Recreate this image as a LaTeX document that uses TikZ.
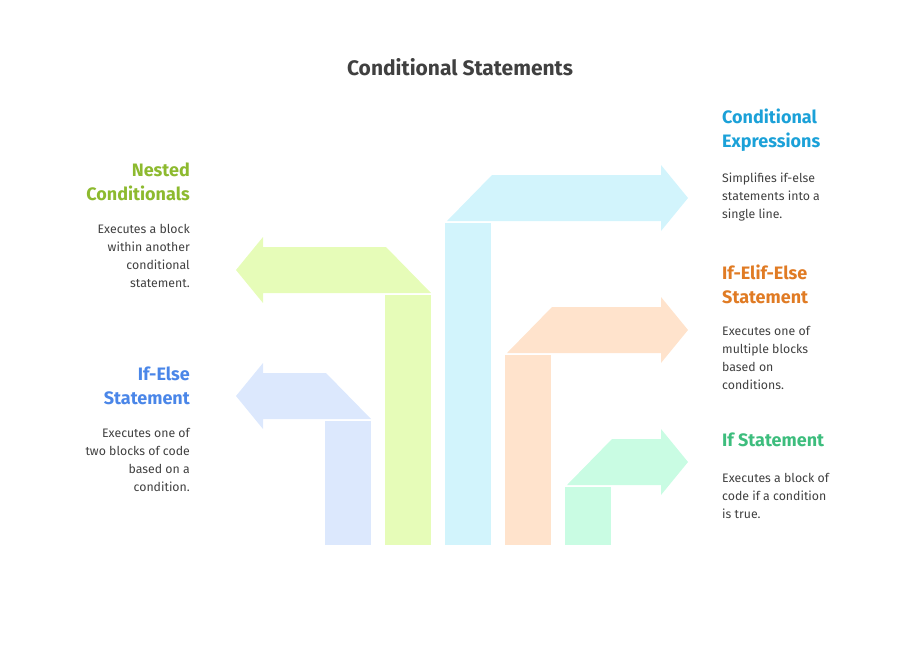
\documentclass[tikz,border=0pt]{standalone}
\usepackage{fontspec}
\setmainfont{Fira Sans}
\begin{document}
\begin{tikzpicture}[x=1pt,y=-1pt,
 ttl/.style={font=\fontseries{sb}\fontsize{21}{24}\selectfont},
 descR/.style={anchor=north west,align=left,font=\fontsize{12.3}{18}\selectfont,text=black!75,inner sep=0},
 descL/.style={anchor=north east,align=right,font=\fontsize{12.3}{18}\selectfont,text=black!75,inner sep=0},
 ttR/.style={anchor=north west,align=left,font=\fontseries{sb}\fontsize{18}{24}\selectfont,inner sep=0},
 ttL/.style={anchor=north east,align=right,font=\fontseries{sb}\fontsize{18}{24}\selectfont,inner sep=0}]
\useasboundingbox (0,0) rectangle (912,654);
\definecolor{cO}{HTML}{FFE3CC}\definecolor{cG}{HTML}{C9FCE3}\definecolor{cB}{HTML}{D2F4FC}
\definecolor{cL}{HTML}{E6FCB8}\definecolor{cD}{HTML}{DCE8FD}
\definecolor{tO}{HTML}{E07B24}\definecolor{tG}{HTML}{3DBD7D}\definecolor{tB}{HTML}{1BA1D8}
\definecolor{tL}{HTML}{8DBA2F}\definecolor{tD}{HTML}{4A86E8}
\foreach \x/\t/\c in {505/355/cO,565/487/cG,445/223/cB}{
 \fill[\c] (\x,545) rectangle (\x+46,\t);
 \fill[\c] (\x+2,\t-2) -- (\x+47,\t-48) -- (661,\t-48) -- (661,\t-58) -- (688,\t-25) -- (661,\t+8) -- (661,\t-2) -- cycle;}
\foreach \x/\t/\c in {385/295/cL,325/421/cD}{
 \fill[\c] (\x,545) rectangle (\x+46,\t);
 \fill[\c] (\x+46,\t-2) -- (\x+1,\t-48) -- (263,\t-48) -- (263,\t-58) -- (236,\t-25) -- (263,\t+8) -- (263,\t-2) -- cycle;}
\node[ttl,text=black!75] (title) at (460,67) {Conditional Statements};
\node[ttR,text=tB] (t1) at (722,109) {Conditional\\Expressions};
\node[descR] (d1) at (722,173) {Simplifies if-else\\statements into a\\single line.};
\node[ttR,text=tO] (t2) at (722,265) {If-Elif-Else\\Statement};
\node[descR] (d2) at (722,326) {Executes one of\\multiple blocks\\based on\\conditions.};
\node[ttR,text=tG] (t3) at (722,433) {If Statement};
\node[descR] (d3) at (722,473) {Executes a block of\\code if a condition\\is true.};
\node[ttL,text=tL] (t4) at (190,163) {Nested\\Conditionals};
\node[descL] (d4) at (190,224) {Executes a block\\within another\\conditional\\statement.};
\node[ttL,text=tD] (t5) at (190,367) {If-Else\\Statement};
\node[descL] (d5) at (190,428) {Executes one of\\two blocks of code\\based on a\\condition.};
\end{tikzpicture}
\end{document}
